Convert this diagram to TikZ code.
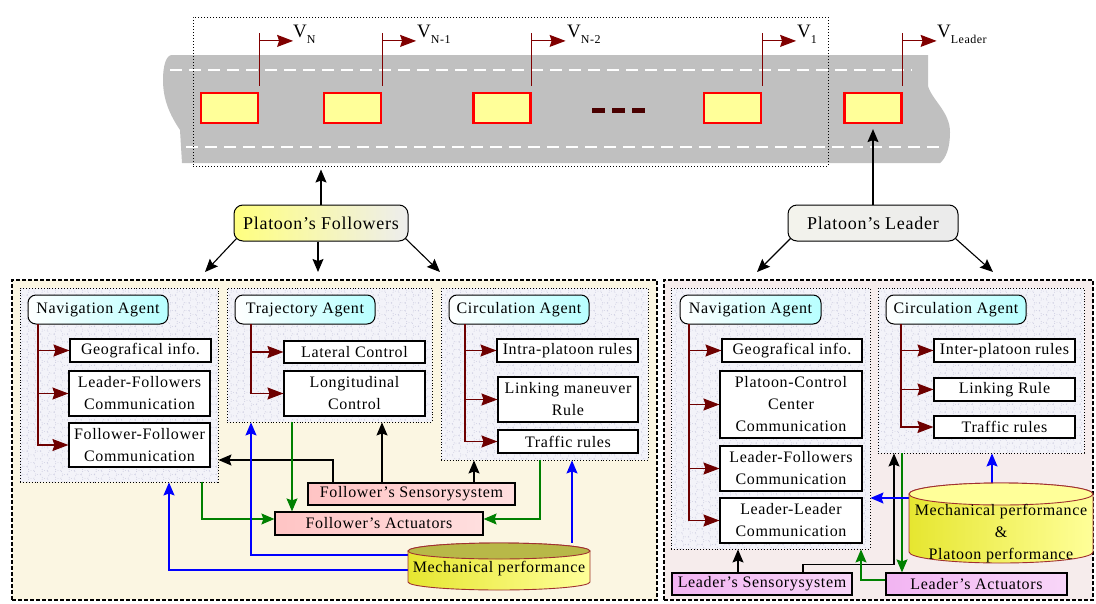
\documentclass[tikz,border=0pt]{standalone}
\usepackage{fontspec}
\setmainfont[LetterSpace=4]{Liberation Serif}
\usetikzlibrary{arrows.meta,calc,patterns}
\newcommand\txtfont{\fontsize{16}{22}\selectfont}
\newcommand\bigtxt{\fontsize{18}{22}\selectfont}
\newcommand\vsubx[1]{\raisebox{-6pt}{\fontsize{12}{12}\selectfont #1}}
\definecolor{dred}{HTML}{800000}
\definecolor{treered}{HTML}{6E0000}
\definecolor{cream}{HTML}{FBF6E2}
\definecolor{pinkpanel}{HTML}{F6ECEC}
\definecolor{hexbg}{HTML}{F3F3F9}
\definecolor{hexline}{HTML}{C8C8DE}
\definecolor{carfill}{HTML}{FFFF99}
\definecolor{roadgray}{HTML}{C0C0C0}
\definecolor{fpink}{HTML}{FFC4C4}
\definecolor{lmag}{HTML}{F2B4F2}
\definecolor{yelA}{HTML}{E6E630}
\definecolor{yelB}{HTML}{FFFF99}
\definecolor{cyltop}{HTML}{B8B848}
\definecolor{cylbord}{HTML}{A03030}
\definecolor{grn}{HTML}{008000}
\definecolor{blu}{HTML}{0000FF}
\definecolor{dashcol}{HTML}{4A0000}
\pgfdeclarepatternformonly{honey}{\pgfqpoint{-1pt}{-1pt}}{\pgfqpoint{14.5pt}{8.8pt}}{\pgfqpoint{13.5pt}{7.794pt}}{%
  \pgfsetlinewidth{0.5pt}%
  \pgfpathmoveto{\pgfqpoint{0pt}{3.897pt}}%
  \pgfpathlineto{\pgfqpoint{2.25pt}{0pt}}%
  \pgfpathlineto{\pgfqpoint{6.75pt}{0pt}}%
  \pgfpathlineto{\pgfqpoint{9pt}{3.897pt}}%
  \pgfpathlineto{\pgfqpoint{13.5pt}{3.897pt}}%
  \pgfpathmoveto{\pgfqpoint{0pt}{3.897pt}}%
  \pgfpathlineto{\pgfqpoint{2.25pt}{7.794pt}}%
  \pgfpathmoveto{\pgfqpoint{9pt}{3.897pt}}%
  \pgfpathlineto{\pgfqpoint{6.75pt}{7.794pt}}%
  \pgfusepath{stroke}%
}
\tikzset{
  tipbig/.tip={Stealth[length=16pt,width=12pt,inset=2pt]},
  tipmid/.tip={Stealth[length=13pt,width=11pt,inset=2pt]}
}
\begin{document}
\begin{tikzpicture}[x=1pt,y=-1pt,
  box/.style={draw=black, line width=1.1pt, fill=white, inner sep=0pt, align=center, font=\txtfont},
  agent/.style={draw=black, line width=1pt, rounded corners=8pt, left color=white, right color=cyan!28, minimum width=140pt, minimum height=29pt, inner sep=0pt, font=\txtfont},
  cont/.style={draw=black, dotted, line width=0.9pt, preaction={fill=hexbg}, pattern=honey, pattern color=hexline, inner sep=0pt},
  car/.style={draw=red, line width=2.2pt, fill=carfill, minimum width=57pt, minimum height=30pt, inner sep=0pt},
  vline/.style={draw=dred, line width=1.1pt},
  varr/.style={draw=dred, line width=1.1pt, -tipbig},
  vlab/.style={font=\fontsize{19}{19}\selectfont, inner sep=0pt},
  treearr/.style={draw=treered, line width=1.1pt, -tipbig},
  blkarr/.style={draw=black, line width=1.1pt, -tipmid},
  grnarr/.style={draw=grn, line width=1.1pt, -tipmid},
  bluarr/.style={draw=blu, line width=1.1pt, -tipmid},
  fbox/.style={draw=black, line width=1.2pt, left color=fpink, right color=fpink!55!white, inner sep=0pt, font=\txtfont},
  lbox/.style={draw=black, line width=1.2pt, left color=lmag, right color=lmag!55!white, inner sep=0pt, font=\txtfont},
  plat/.style={draw=black, line width=1pt, rounded corners=9pt, inner sep=0pt, minimum height=36pt, font=\bigtxt},
  panel/.style={draw=black, line width=1.2pt, dash pattern=on 4pt off 2pt, inner sep=0pt}
]
\useasboundingbox (0,0) rectangle (1096,603);
\fill[white] (0,0) rectangle (1096,603);

% ---------------- road ----------------
\fill[roadgray] (172,55) -- (928,55) -- (928,86) .. controls (932,100) and (950,112) .. (950,132)
  .. controls (950,148) and (946,158) .. (940,163) -- (182,163) -- (180,130)
  .. controls (170,115) and (163,100) .. (163,80) .. controls (163,66) and (166,55) .. (172,55) -- cycle;
\draw[white, line width=2.4pt, dash pattern=on 12pt off 7pt] (170,70) -- (912,70);
\draw[white, line width=2.4pt, dash pattern=on 12pt off 7pt] (186,147) -- (940,147);
\node[draw=black, dotted, line width=1pt, minimum width=635pt, minimum height=149pt, inner sep=0pt] (frame) at (510.5,91.5) {};

\node[car] (cN)  at (229.5,108) {};
\node[car] (cN1) at (352.5,108) {};
\node[car] (cN2) at (502,108) {};
\node[car] (c1)  at (732.5,108) {};
\node[car] (cL)  at (873,108) {};

\foreach \c in {cN,cN1,cN2,c1,cL}{
  \draw[vline] ([yshift=6pt]\c.north east) -- ++(0,-53);
  \draw[varr] ([yshift=51pt]\c.north east) -- ++(34,0);
}
\node[vlab, anchor=base west] (lN)  at (293,37) {V\vsubx{N}};
\node[vlab, anchor=base west] (lN1) at (417,37) {V\vsubx{N-1}};
\node[vlab, anchor=base west] (lN2) at (567,37) {V\vsubx{N-2}};
\node[vlab, anchor=base west] (l1)  at (797,37) {V\vsubx{1}};
\node[vlab, anchor=base west] (lL)  at (937,37) {V\vsubx{Leader}};

\fill[dashcol] (592,108) rectangle (605,113);
\fill[dashcol] (612,108) rectangle (625,113);
\fill[dashcol] (632,108) rectangle (645,113);

% ---------------- platoon nodes ----------------
\node[plat, minimum width=174pt, left color=yellow!50, right color=gray!14] (pf) at (321,223) {Platoon’s Followers};
\node[plat, minimum width=170pt, left color=yellow!22!gray!12, right color=gray!16] (pl) at (873,223) {Platoon’s Leader};

\draw[blkarr] (pf.north) -- ([yshift=-3pt]pf.north |- frame.south);
\draw[blkarr] (pl.north) -- ([yshift=-5pt]cL.south);

\coordinate (e1) at (205,272);
\coordinate (e2) at (318,272);
\coordinate (e3) at (440,272);
\coordinate (e4) at (757,272);
\coordinate (e5) at (993,272);
\draw[blkarr] ([shift={(3pt,3pt)}]pf.south west) -- (e1);
\draw[blkarr] (pf.south -| e2) -- (e2);
\draw[blkarr] ([shift={(-3pt,3pt)}]pf.south east) -- (e3);
\draw[blkarr] ([shift={(3pt,3pt)}]pl.south west) -- (e4);
\draw[blkarr] ([shift={(-3pt,3pt)}]pl.south east) -- (e5);

% ---------------- panels ----------------
\node[panel, fill=cream, minimum width=645pt, minimum height=320pt] (PF) at (334.5,440) {};
\node[panel, fill=pinkpanel, minimum width=429pt, minimum height=320pt] (PL) at (878.5,440) {};

% containers
\node[cont, minimum width=198pt, minimum height=194pt] (NAVF) at (119,385) {};
\node[cont, minimum width=205pt, minimum height=134pt] (TRJF) at (329.5,355) {};
\node[cont, minimum width=207pt, minimum height=172pt] (CIRF) at (544.5,374) {};
\node[cont, minimum width=199pt, minimum height=261pt] (NAVL) at (770.5,418.5) {};
\node[cont, minimum width=206pt, minimum height=165pt] (CIRL) at (981,370.5) {};

% agents
\node[agent] (navAF) at (98,309.5) {Navigation Agent};
\node[agent] (trjA)  at (305,309.5) {Trajectory Agent};
\node[agent] (cirAF) at (519,309.5) {Circulation Agent};
\node[agent, minimum width=141pt] (navAL) at (750.5,309.5) {Navigation Agent};
\node[agent] (cirAL) at (956,309.5) {Circulation Agent};

% left boxes
\node[box, minimum width=141pt, minimum height=23pt] (geoF) at (140.5,350.5) {Geografical info.};
\node[box, minimum width=141pt, minimum height=45pt] (lfF)  at (139.5,393.5) {Leader-Followers\\Communication};
\node[box, minimum width=141pt, minimum height=44pt] (ffF)  at (139.5,445) {Follower-Follower\\Communication};
\node[box, minimum width=141pt, minimum height=22pt] (latC) at (354.5,352) {Lateral Control};
\node[box, minimum width=141pt, minimum height=45pt] (lonC) at (354.5,393.5) {Longitudinal\\Control};
\node[box, minimum width=141pt, minimum height=23pt] (intra) at (567.5,350.5) {Intra-platoon rules};
\node[box, minimum width=140pt, minimum height=45pt] (linkF) at (568,399.5) {Linking maneuver\\Rule};
\node[box, minimum width=140pt, minimum height=23pt] (trafF) at (568,441.5) {Traffic rules};

% right boxes
\node[box, minimum width=140pt, minimum height=23pt] (geoL) at (792,350.5) {Geografical info.};
\node[box, minimum width=142pt, minimum height=67pt] (pcc)  at (791,404.5) {Platoon-Control\\Center\\Communication};
\node[box, minimum width=142pt, minimum height=45pt] (lfL)  at (791,468.5) {Leader-Followers\\Communication};
\node[box, minimum width=142pt, minimum height=45pt] (llL)  at (791,520.5) {Leader-Leader\\Communication};
\node[box, minimum width=141pt, minimum height=23pt] (inter) at (1004.5,350.5) {Inter-platoon rules};
\node[box, minimum width=141pt, minimum height=23pt] (linkL) at (1004.5,389.5) {Linking Rule};
\node[box, minimum width=141pt, minimum height=22pt] (trafL) at (1004.5,427) {Traffic rules};

% trees
\coordinate (tNF) at (38,324);
\coordinate (tTR) at (251,324);
\coordinate (tCF) at (465,324);
\coordinate (tNL) at (689,324);
\coordinate (tCL) at (901,324);
\draw[treearr] (tNF) |- (ffF.west);
\draw[treearr] (tNF |- geoF.west) -- (geoF.west);
\draw[treearr] (tNF |- lfF.west) -- (lfF.west);
\draw[treearr] (tTR) |- (lonC.west);
\draw[treearr] (tTR |- latC.west) -- (latC.west);
\draw[treearr] (tCF) |- (trafF.west);
\draw[treearr] (tCF |- intra.west) -- (intra.west);
\draw[treearr] (tCF |- linkF.west) -- (linkF.west);
\draw[treearr] (tNL) |- (llL.west);
\draw[treearr] (tNL |- geoL.west) -- (geoL.west);
\draw[treearr] (tNL |- pcc.west) -- (pcc.west);
\draw[treearr] (tNL |- lfL.west) -- (lfL.west);
\draw[treearr] (tCL) |- (trafL.west);
\draw[treearr] (tCL |- inter.west) -- (inter.west);
\draw[treearr] (tCL |- linkL.west) -- (linkL.west);

% sensors / actuators
\node[fbox, minimum width=207pt, minimum height=22pt] (fSens) at (411.5,494) {Follower’s Sensorysystem};
\node[fbox, minimum width=208pt, minimum height=23pt] (fAct)  at (379,523.5) {Follower’s Actuators};
\node[lbox, minimum width=180pt, minimum height=22pt] (lSens) at (762,584) {Leader’s Sensorysystem};
\node[lbox, minimum width=181pt, minimum height=22pt] (lAct)  at (976.5,584) {Leader’s Actuators};

% cylinder anchors
\node[inner sep=0pt, minimum width=182pt, minimum height=47pt] (cyl1) at (499,566.5) {};
\node[inner sep=0pt, minimum width=184pt, minimum height=80pt] (cyl2) at (1001,523) {};

% connectors left
\draw[blkarr] (fSens.north -| 333,0) |- (NAVF.east |- 0,460);
\draw[blkarr] (fSens.north -| 382,0) -- (TRJF.south -| 382,0);
\draw[blkarr] (fSens.north -| 474,0) -- (CIRF.south -| 474,0);
\draw[grnarr] (TRJF.south -| 292,0) -- (fAct.north -| 292,0);
\draw[grnarr] (NAVF.south -| 202,0) |- (fAct.west |- 0,519);
\draw[grnarr] (CIRF.south -| 540,0) |- (fAct.east |- 0,519);
\draw[bluarr] (cyl1.west |- 0,555) -| (TRJF.south -| 251,0);
\draw[bluarr] (cyl1.west |- 0,570) -| (NAVF.south -| 169,0);
\draw[bluarr] (cyl1.north -| 572,0) -- (CIRF.south -| 572,0);

% connectors right
\draw[blkarr] (lSens.north -| 738,0) -- (NAVL.south -| 738,0);
\draw[blkarr] (lSens.north -| 803,0) -- ++(0,-8) -| (CIRL.south -| 894,0);
\draw[grnarr] (CIRL.south -| 902,0) -- (lAct.north -| 902,0);
\draw[grnarr] (lAct.west |- 0,580) -| (NAVL.south -| 861,0);
\draw[bluarr] (cyl2.west |- 0,498) -- (NAVL.east |- 0,498);
\draw[bluarr] (cyl2.north -| 992,0) -- (CIRL.south -| 992,0);

% cylinder 1
\path[draw=cylbord, line width=0.9pt, left color=yelA, right color=yelB]
  (408,551) -- (408,582) arc[start angle=180, end angle=360, x radius=91pt, y radius=8pt]
  -- (590,551) arc[start angle=0, end angle=180, x radius=91pt, y radius=8pt] -- cycle;
\draw[cylbord, line width=0.9pt, fill=cyltop] (499,551) ellipse[x radius=91pt, y radius=8pt];
\node[font=\txtfont, inner sep=0pt] (cyl1t) at (499,569) {Mechanical performance};

% cylinder 2
\path[draw=cylbord, line width=0.9pt, left color=yelA, right color=yelB]
  (909,494) -- (909,552) arc[start angle=180, end angle=360, x radius=92pt, y radius=11pt]
  -- (1093,494) arc[start angle=0, end angle=180, x radius=92pt, y radius=11pt] -- cycle;
\draw[cylbord, line width=0.9pt, fill=yelB] (1001,494) ellipse[x radius=92pt, y radius=11pt];
\node[font=\txtfont, inner sep=0pt, align=center] (cyl2t) at (1001,534) {Mechanical performance\\\&\\Platoon performance};

\end{tikzpicture}
\end{document}
